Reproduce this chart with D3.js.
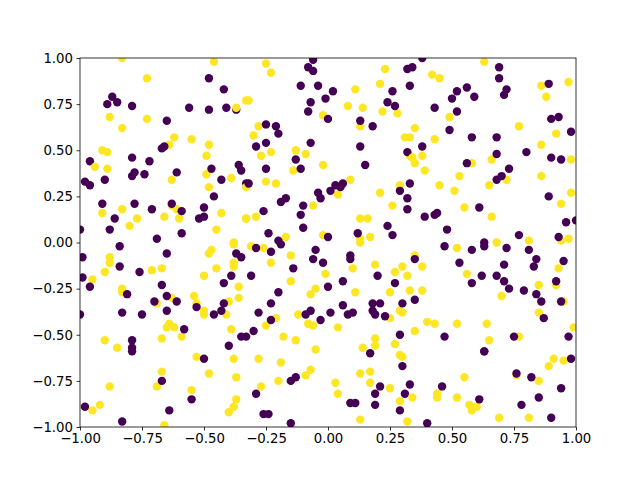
<!DOCTYPE html>
<html><head><meta charset="utf-8">
<script src="https://cdn.jsdelivr.net/npm/d3@7"></script>
<style>body{margin:0;background:#fff}svg{display:block}</style>
</head><body>
<svg id="c" width="640" height="480"></svg>
<script>
const xTicks=[-1,-0.75,-0.5,-0.25,0,0.25,0.5,0.75,1];
const yTicks=[-1,-0.75,-0.5,-0.25,0,0.25,0.5,0.75,1];
const yellowPoints=[
[-0.83,1.0],[-0.46,0.98],[-0.73,0.89],[-0.88,0.68],[-0.73,0.67],[-0.83,0.62],[-0.62,0.57],[-0.64,0.53],[-0.55,0.56],[-0.48,0.53],[-0.49,0.47],[-0.91,0.50],[-0.89,0.49],[-0.94,0.41],[-0.89,0.40],[-0.49,0.37],[-0.63,0.34],[-0.48,0.30],[-0.39,0.35],[-0.37,0.73],[-0.33,0.77],[-0.91,0.16],[-0.83,0.18],[-0.77,0.13],[-0.80,0.09],[-0.66,0.14],[-0.63,0.20],[-0.61,0.18],[-0.60,0.13],[-0.43,0.16],[-0.45,0.07],[-0.33,0.13],[-0.38,0.0],
[-0.25,0.97],[-0.23,0.92],[0.23,0.94],[0.21,0.86],[0.11,0.83],[-0.32,0.77],[0.08,0.74],[0.14,0.73],[0.22,0.71],[0.28,0.70],[-0.02,0.69],[0.13,0.63],[-0.28,0.63],[-0.30,0.58],[-0.27,0.47],[-0.23,0.49],[-0.13,0.50],[-0.09,0.48],[-0.14,0.39],[-0.02,0.42],[-0.25,0.33],[-0.21,0.32],[-0.33,0.30],[0.09,0.34],[0.04,0.26],[0.21,0.27],[0.29,0.31],[0.26,0.20],[-0.06,0.20],[0.31,0.57],[0.33,0.47],[-0.33,0.13],[-0.29,0.14],[0.13,0.13],[0.16,0.13],[-0.17,0.03],[-0.02,0.04],[0.13,0.02],[0.17,0.03],
[0.63,0.98],[0.42,0.91],[0.45,0.89],[0.86,0.85],[0.88,0.79],[0.97,0.87],[0.49,0.68],[0.35,0.62],[0.33,0.57],[0.43,0.56],[0.77,0.63],[0.92,0.59],[0.86,0.53],[0.34,0.46],[0.38,0.47],[0.35,0.43],[0.39,0.39],[0.58,0.43],[0.66,0.45],[0.98,0.45],[0.53,0.36],[0.45,0.31],[0.51,0.28],[0.65,0.31],[0.72,0.34],[0.86,0.36],[0.98,0.27],[0.94,0.21],[0.55,0.19],[0.66,0.14],[0.68,0.0],[0.81,0.01],[0.94,0.01],[0.97,0.02],
[-0.47,-0.04],[-0.48,-0.06],[-0.38,-0.01],[-0.88,-0.08],[-0.88,-0.11],[-0.90,-0.16],[-0.95,-0.20],[-0.71,-0.15],[-0.67,-0.14],[-0.45,-0.14],[-0.38,-0.11],[-0.38,-0.13],[-0.50,-0.18],[-0.36,-0.24],[-0.83,-0.25],[-0.83,-0.27],[-0.63,-0.30],[-0.69,-0.33],[-0.54,-0.29],[-0.53,-0.33],[-0.50,-0.37],[-0.50,-0.39],[-0.40,-0.32],[-0.41,-0.39],[-0.36,-0.30],[-0.64,-0.44],[-0.65,-0.46],[-0.62,-0.46],[-0.59,-0.51],[-0.67,-0.52],[-0.39,-0.47],[-0.90,-0.53],[-0.85,-0.57],[-0.53,-0.62],[-0.38,-0.63],[-0.48,-0.71],[-0.37,-0.73],[-0.67,-0.70],[-0.69,-0.78],[-0.88,-0.78],[-0.55,-0.80],[-0.37,-0.85],[-0.38,-0.89],[-0.40,-0.92],[-0.92,-0.88],[-0.95,-0.91],[-0.66,-0.99],
[-0.31,-0.02],[-0.26,-0.03],[-0.15,-0.07],[-0.23,-0.11],[-0.15,-0.21],[-0.01,-0.17],[-0.07,-0.28],[-0.05,-0.25],[0.10,-0.14],[0.19,-0.12],[0.11,-0.27],[0.30,-0.13],[0.27,-0.16],[0.32,-0.18],[0.25,-0.27],[0.33,-0.26],[-0.21,-0.41],[-0.25,-0.45],[-0.12,-0.39],[-0.08,-0.44],[-0.06,-0.45],[0.04,-0.46],[-0.18,-0.51],[-0.13,-0.53],[0.25,-0.41],[0.29,-0.37],[0.30,-0.38],[0.19,-0.52],[0.19,-0.56],[0.14,-0.57],[0.27,-0.55],[0.29,-0.61],[0.30,-0.62],[-0.05,-0.58],[-0.28,-0.63],[-0.19,-0.65],[-0.07,-0.69],[-0.09,-0.72],[0.13,-0.71],[0.17,-0.70],[0.17,-0.76],[0.25,-0.79],[-0.20,-0.75],[-0.27,-0.78],[0.03,-0.76],[0.04,-0.82],[0.29,-0.86],[0.13,-0.96],[0.32,-0.97],[0.13,0.0],
[0.52,-0.03],[0.35,-0.07],[0.38,-0.13],[0.56,-0.17],[0.93,-0.14],[0.85,-0.23],[0.92,-0.23],[0.70,-0.29],[0.38,-0.26],[0.95,-0.32],[0.85,-0.38],[0.40,-0.43],[0.43,-0.44],[0.52,-0.44],[0.64,-0.44],[0.35,-0.48],[0.99,-0.46],[0.65,-0.53],[0.77,-0.51],[0.91,-0.63],[0.95,-0.64],[0.89,-0.67],[0.55,-0.73],[0.76,-0.72],[0.85,-0.75],[0.44,-0.82],[0.44,-0.84],[0.52,-0.84],[0.34,-0.84],[0.57,-0.88],[0.60,-0.89],[0.58,-0.91],[0.69,-0.95],[0.81,-0.95]
];
const purplePoints=[
[-0.48,0.89],[-0.42,0.83],[-0.87,0.79],[-0.89,0.75],[-0.85,0.76],[-0.79,0.74],[-0.56,0.73],[-0.48,0.72],[-0.41,0.73],[-0.37,0.72],[-0.65,0.66],[-0.67,0.51],[-0.66,0.52],[-0.96,0.44],[-0.79,0.46],[-0.72,0.44],[-0.79,0.36],[-0.78,0.38],[-0.74,0.37],[-0.61,0.38],[-0.47,0.40],[-0.98,0.33],[-0.96,0.31],[-0.90,0.34],[-0.43,0.34],[-0.36,0.42],[-0.35,0.39],[-0.33,0.32],[-0.46,0.25],[-0.91,0.21],[-0.78,0.21],[-0.71,0.18],[-0.59,0.17],[-0.50,0.19],[-0.52,0.13],[-0.50,0.14],[-0.86,0.13],[-0.88,0.07],[-1.0,0.07],[-0.69,0.02],[-0.59,0.05],[-0.63,0.21],
[-0.06,0.99],[-0.08,0.95],[-0.06,0.93],[0.32,0.94],[-0.11,0.85],[-0.04,0.85],[0.02,0.82],[-0.01,0.78],[0.26,0.82],[0.33,0.85],[-0.07,0.76],[-0.08,0.71],[0.24,0.76],[0.27,0.74],[0.0,0.67],[0.13,0.66],[0.18,0.63],[-0.25,0.64],[-0.21,0.63],[-0.20,0.59],[-0.29,0.52],[-0.25,0.54],[-0.07,0.54],[0.13,0.52],[-0.13,0.45],[-0.11,0.40],[-0.25,0.40],[0.15,0.42],[0.32,0.49],[-0.32,0.32],[-0.04,0.27],[-0.03,0.24],[0.01,0.28],[0.03,0.31],[0.06,0.32],[0.05,0.30],[0.33,0.32],[0.29,0.28],[0.32,0.24],[0.32,0.18],[-0.19,0.22],[-0.17,0.24],[-0.10,0.20],[-0.11,0.15],[-0.26,0.17],[-0.10,0.08],[-0.24,0.05],[-0.20,0.01],[0.12,0.05],[0.24,0.09],[0.26,0.04],[0.0,0.03],
[0.38,1.0],[0.34,0.95],[0.69,0.95],[0.69,0.89],[0.52,0.82],[0.56,0.84],[0.50,0.78],[0.59,0.79],[0.72,0.83],[0.71,0.80],[0.89,0.86],[0.43,0.73],[0.52,0.71],[0.90,0.67],[0.93,0.68],[0.98,0.60],[0.49,0.61],[0.58,0.57],[0.68,0.57],[0.38,0.52],[0.68,0.48],[0.80,0.49],[0.90,0.46],[0.94,0.45],[0.56,0.43],[0.73,0.40],[0.68,0.34],[0.70,0.36],[0.89,0.25],[0.39,0.14],[0.43,0.15],[0.44,0.16],[0.61,0.19],[0.48,0.07],[0.77,0.04],[0.93,0.03],[0.96,0.11],[1.0,0.12],[0.63,0.0],
[-0.84,-0.02],[-0.99,-0.08],[-0.65,-0.06],[-0.37,-0.06],[-0.35,-0.08],[-0.84,-0.13],[-0.76,-0.16],[-0.99,-0.19],[-0.96,-0.24],[-0.39,-0.18],[-0.42,-0.22],[-0.67,-0.23],[-0.81,-0.28],[-0.70,-0.32],[-0.65,-0.29],[-0.61,-0.32],[-0.65,-0.37],[-1.0,-0.39],[-0.83,-0.38],[-0.75,-0.39],[-0.53,-0.35],[-0.46,-0.39],[-0.42,-0.33],[-0.43,-0.37],[-0.58,-0.47],[-0.35,-0.51],[-0.79,-0.53],[-0.79,-0.57],[-0.79,-0.59],[-0.40,-0.56],[-0.50,-0.63],[-0.67,-0.75],[-0.55,-0.85],[-0.98,-0.89],[-0.64,-0.91],[-0.83,-0.97],
[-0.19,-0.01],[-0.29,-0.03],[-0.23,-0.05],[-0.05,-0.04],[0.09,-0.07],[0.09,-0.09],[-0.06,-0.09],[-0.02,-0.11],[-0.14,-0.14],[-0.31,-0.18],[0.20,-0.18],[-0.20,-0.27],[0.0,-0.24],[0.06,-0.21],[0.27,-0.22],[-0.23,-0.33],[-0.28,-0.38],[-0.23,-0.42],[-0.07,-0.37],[-0.09,-0.39],[-0.03,-0.42],[0.01,-0.38],[0.06,-0.34],[0.08,-0.39],[0.10,-0.38],[0.18,-0.33],[0.21,-0.33],[0.18,-0.37],[0.19,-0.39],[0.23,-0.40],[0.30,-0.33],[-0.30,-0.48],[-0.33,-0.51],[0.29,-0.50],[0.17,-0.60],[0.30,-0.67],[-0.15,-0.75],[-0.13,-0.73],[0.21,-0.78],[0.19,-0.82],[0.31,-0.82],[-0.29,-0.82],[0.09,-0.87],[0.11,-0.87],[0.19,-0.88],[0.29,-0.91],[-0.26,-0.93],[-0.24,-0.93],[-0.15,-0.98],[0.33,-0.77],
[0.47,-0.02],[0.58,-0.04],[0.63,-0.02],[0.72,-0.03],[0.81,-0.04],[0.84,-0.09],[0.83,-0.13],[0.95,-0.10],[0.35,-0.09],[0.53,-0.11],[0.71,-0.12],[0.62,-0.18],[0.58,-0.22],[0.68,-0.18],[0.71,-0.21],[0.73,-0.25],[0.79,-0.26],[0.84,-0.28],[0.86,-0.32],[0.94,-0.32],[0.92,-0.21],[0.35,-0.31],[0.87,-0.41],[0.47,-0.51],[0.75,-0.51],[0.97,-0.51],[0.63,-0.59],[0.63,-0.59],[0.98,-0.63],[0.76,-0.71],[0.82,-0.73],[0.94,-0.79],[0.85,-0.84],[0.46,-0.78],[0.61,-0.85],[0.78,-0.88],[0.90,-0.95],[0.40,-0.98]
];
const svg=d3.select("#c");
const L=80,R=576,T=58,B=427;
const x=d3.scaleLinear().domain([-1,1]).range([L,R]);
const y=d3.scaleLinear().domain([-1,1]).range([B,T]);
const pts=[];
const n=Math.max(yellowPoints.length,purplePoints.length);
for(let i=0;i<n;i++){if(purplePoints[i])pts.push({p:purplePoints[i],c:"#440154"});if(yellowPoints[i])pts.push({p:yellowPoints[i],c:"#fde725"});}
svg.append("defs").append("clipPath").attr("id","cl").append("rect").attr("x",L).attr("y",T).attr("width",R-L).attr("height",B-T);
svg.append("g").attr("clip-path","url(#cl)").selectAll("circle").data(pts).join("circle")
 .attr("cx",d=>x(d.p[0])).attr("cy",d=>y(d.p[1])).attr("r",4.2).attr("fill",d=>d.c);
const fmt=d3.format(".2f");
const ax=svg.append("g").attr("transform",`translate(0,${B})`).call(d3.axisBottom(x).tickValues(xTicks).tickFormat(fmt).tickSizeOuter(0).tickSize(3.5).tickPadding(3.5));
const ay=svg.append("g").attr("transform",`translate(${L},0)`).call(d3.axisLeft(y).tickValues(yTicks).tickFormat(fmt).tickSizeOuter(0).tickSize(3.5).tickPadding(3.5));
[ax,ay].forEach(g=>{g.select(".domain").remove();g.selectAll("text").attr("font-family","DejaVu Sans").attr("font-size","10px").attr("fill","#000").style("font-size","13.3px");g.selectAll("line").attr("stroke","#000").attr("stroke-width",0.8);});
svg.append("rect").attr("x",L).attr("y",T).attr("width",R-L).attr("height",B-T).attr("fill","none").attr("stroke","#000").attr("stroke-width",0.8);
</script>
</body></html>
